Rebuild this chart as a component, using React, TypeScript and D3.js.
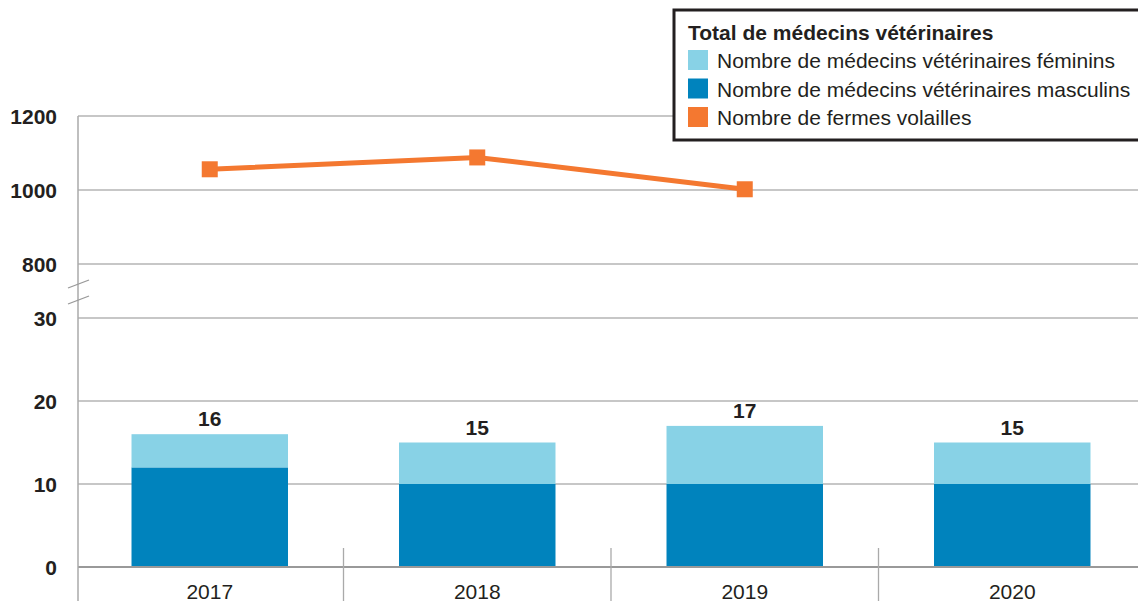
import React, { useRef, useEffect } from 'react';
import * as d3 from 'd3';

const years = ['2017', '2018', '2019', '2020'];
const maleVets = [12, 10, 10, 10];
const femaleVets = [4, 5, 7, 5];
const poultryFarms = [1056, 1088, 1002];

const lowTicks = [0, 10, 20, 30];
const highTicks = [800, 1000, 1200];

const legendTitle = 'Total de médecins vétérinaires';
const legendItems = [
  { label: 'Nombre de médecins vétérinaires féminins', color: '#88d2e6' },
  { label: 'Nombre de médecins vétérinaires masculins', color: '#0083bd' },
  { label: 'Nombre de fermes volailles', color: '#f47830' },
];

const FONT = '"Liberation Sans", Arial, Helvetica, sans-serif';

const App = () => {
  const ref = useRef(null);

  const width = 1138;
  const height = 601;
  const left = 78;
  const fs = 21;

  useEffect(() => {
    d3.select(ref.current).select('svg').remove();

    const svg = d3.select(ref.current).append('svg')
      .attr('width', width)
      .attr('height', height)
      .style('position', 'absolute')
      .style('left', 0)
      .style('top', 0)
      .style('font-family', FONT);

    const x = d3.scaleBand().domain(years).range([76, 1146]);
    const barW = x.bandwidth() * 0.585;

    const yLow = d3.scaleLinear().domain([0, 30]).range([567, 318]);
    const yHigh = d3.scaleLinear().domain([800, 1200]).range([264, 116]);

    // gridlines
    const grid = svg.append('g');
    highTicks.forEach(t => {
      grid.append('line')
        .attr('x1', left).attr('x2', width)
        .attr('y1', yHigh(t)).attr('y2', yHigh(t))
        .attr('stroke', '#b5b5b5').attr('stroke-width', 1.3);
    });
    lowTicks.filter(t => t > 0).forEach(t => {
      grid.append('line')
        .attr('x1', left).attr('x2', width)
        .attr('y1', yLow(t)).attr('y2', yLow(t))
        .attr('stroke', '#b5b5b5').attr('stroke-width', 1.3);
    });

    // tick labels
    const labels = svg.append('g')
      .attr('font-size', fs).attr('font-weight', 'bold').attr('fill', '#231f20')
      .attr('text-anchor', 'end');
    highTicks.forEach(t => {
      labels.append('text').attr('x', 57).attr('y', yHigh(t) + 7.5).text(t);
    });
    lowTicks.forEach(t => {
      labels.append('text').attr('x', 57).attr('y', yLow(t) + 7.5).text(t);
    });

    // stacked bars
    const stack = d3.stack().keys(['male', 'female'])(
      years.map((y, i) => ({ year: y, male: maleVets[i], female: femaleVets[i] })) as any
    );
    const colors = { male: '#0083bd', female: '#88d2e6' };
    stack.forEach(layer => {
      svg.append('g').selectAll('rect')
        .data(layer)
        .enter().append('rect')
        .attr('x', (d: any) => x(d.data.year) + (x.bandwidth() - barW) / 2)
        .attr('width', barW)
        .attr('y', d => yLow(d[1]))
        .attr('height', d => yLow(d[0]) - yLow(d[1]))
        .attr('fill', colors[layer.key]);
    });

    // totals
    svg.append('g').selectAll('text')
      .data(years)
      .enter().append('text')
      .attr('x', d => x(d) + x.bandwidth() / 2)
      .attr('y', (d, i) => yLow(maleVets[i] + femaleVets[i]) - 8)
      .attr('text-anchor', 'middle')
      .attr('font-size', fs).attr('font-weight', 'bold').attr('fill', '#231f20')
      .text((d, i) => maleVets[i] + femaleVets[i]);

    // axes lines
    svg.append('line')
      .attr('x1', left).attr('x2', width)
      .attr('y1', yLow(0)).attr('y2', yLow(0))
      .attr('stroke', '#999').attr('stroke-width', 2);
    svg.append('line')
      .attr('x1', left).attr('x2', left)
      .attr('y1', yHigh(1200)).attr('y2', height)
      .attr('stroke', '#aaa').attr('stroke-width', 1.5);
    years.slice(1).forEach(yr => {
      svg.append('line')
        .attr('x1', x(yr)).attr('x2', x(yr))
        .attr('y1', 548).attr('y2', height)
        .attr('stroke', '#aaa').attr('stroke-width', 1.3);
    });

    // axis break marks
    [288, 304].forEach(yy => {
      svg.append('line')
        .attr('x1', 68).attr('y1', yy)
        .attr('x2', 89).attr('y2', yy - 8)
        .attr('stroke', '#999').attr('stroke-width', 1.3);
    });

    // year labels
    svg.append('g').selectAll('text')
      .data(years)
      .enter().append('text')
      .attr('x', d => x(d) + x.bandwidth() / 2)
      .attr('y', 599)
      .attr('text-anchor', 'middle')
      .attr('font-size', fs).attr('fill', '#231f20')
      .text(d => d);

    // poultry farms line
    const line = d3.line<number>()
      .x((d, i) => x(years[i]) + x.bandwidth() / 2)
      .y(d => yHigh(d));
    svg.append('path')
      .datum(poultryFarms)
      .attr('d', line)
      .attr('fill', 'none')
      .attr('stroke', '#f47830')
      .attr('stroke-width', 5);
    svg.append('g').selectAll('rect')
      .data(poultryFarms)
      .enter().append('rect')
      .attr('x', (d, i) => x(years[i]) + x.bandwidth() / 2 - 8)
      .attr('y', d => yHigh(d) - 8)
      .attr('width', 16).attr('height', 16)
      .attr('fill', '#f47830');

    // legend
    const lg = svg.append('g');
    lg.append('rect')
      .attr('x', 674).attr('y', 10)
      .attr('width', 480).attr('height', 130)
      .attr('fill', '#fff').attr('stroke', '#231f20').attr('stroke-width', 3);
    lg.append('text')
      .attr('x', 688).attr('y', 40)
      .attr('font-size', fs).attr('font-weight', 'bold').attr('fill', '#231f20')
      .text(legendTitle);
    legendItems.forEach((item, i) => {
      lg.append('rect')
        .attr('x', 688).attr('y', 50 + i * 28.5)
        .attr('width', 20).attr('height', 20)
        .attr('fill', item.color);
      lg.append('text')
        .attr('x', 717).attr('y', 68 + i * 28.5)
        .attr('font-size', fs).attr('fill', '#231f20')
        .text(item.label);
    });
  }, []);

  return <div ref={ref}></div>;
};

export default App;
